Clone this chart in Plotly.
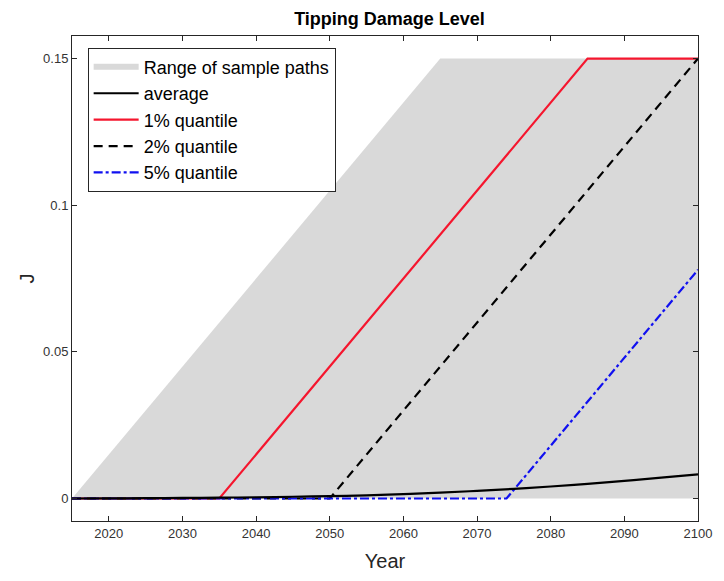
import plotly.graph_objects as go

# Envelope of all simulated sample paths
range_years = [2015, 2065, 2100]
range_upper = [0.0, 0.15, 0.15]
range_lower = [0.0, 0.0, 0.0]

# Mean damage level over time
avg_years = [2015, 2020, 2025, 2030, 2035, 2040, 2045, 2050, 2055, 2060,
             2065, 2070, 2075, 2080, 2085, 2090, 2095, 2100]
avg_vals = [0.0, 0.00005, 0.0001, 0.0002, 0.0003, 0.0004, 0.0006, 0.0008,
            0.0011, 0.0015, 0.0020, 0.0026, 0.0033, 0.0041, 0.0050, 0.0060,
            0.0071, 0.0082]

# Quantile paths
q1_years = [2015, 2035, 2085, 2100]
q1_vals = [0.0, 0.0, 0.15, 0.15]
q2_years = [2015, 2050, 2100]
q2_vals = [0.0, 0.0, 0.15]
q5_years = [2015, 2074, 2100]
q5_vals = [0.0, 0.0, 0.078]

x_ticks = [2020, 2030, 2040, 2050, 2060, 2070, 2080, 2090, 2100]
y_ticks = [0, 0.05, 0.1, 0.15]
y_tick_labels = ["0", "0.05", "0.1", "0.15"]

FONT = "Liberation Sans, Arial, Helvetica"

fig = go.Figure()

fig.add_trace(go.Scatter(
    x=range_years + range_years[::-1],
    y=range_upper + range_lower[::-1],
    fill="toself", fillcolor="#d9d9d9", mode="none",
    name="Range of sample paths", legendrank=1,
))
fig.add_trace(go.Scatter(
    x=q1_years, y=q1_vals, mode="lines", name="1% quantile",
    line=dict(color="#f5162e", width=2.2), legendrank=3,
))
fig.add_trace(go.Scatter(
    x=q2_years, y=q2_vals, mode="lines", name="2% quantile",
    line=dict(color="black", width=2.2, dash="9px,6px"), legendrank=4,
))
fig.add_trace(go.Scatter(
    x=q5_years, y=q5_vals, mode="lines", name="5% quantile",
    line=dict(color="#1010f0", width=2.2, dash="dashdot"), legendrank=5,
))
fig.add_trace(go.Scatter(
    x=avg_years, y=avg_vals, mode="lines", name="average",
    line=dict(color="black", width=2.2, shape="spline"), legendrank=2,
))

axis_common = dict(
    showline=True, linecolor="#262626", linewidth=1, mirror="ticks",
    ticks="inside", ticklen=5, tickcolor="#262626", showgrid=False,
    zeroline=False, tickfont=dict(family=FONT, size=13, color="#333333"),
)

fig.update_layout(
    width=724, height=581,
    margin=dict(l=72, r=19, t=36, b=49),
    paper_bgcolor="white", plot_bgcolor="white",
    title=dict(text="<b>Tipping Damage Level</b>", x=0.538, xanchor="center",
               y=0.968, yanchor="middle",
               font=dict(family=FONT, size=18, color="black")),
    xaxis=dict(range=[2015, 2100], tickvals=x_ticks,
               title=dict(text="Year", standoff=14,
                          font=dict(family=FONT, size=20, color="#262626")),
               **axis_common),
    yaxis=dict(range=[-0.00767, 0.1577], tickvals=y_ticks, ticktext=y_tick_labels,
               title=dict(text="J", standoff=3,
                          font=dict(family=FONT, size=20, color="#262626")),
               **axis_common),
    legend=dict(x=0.025, y=0.976, xanchor="left", yanchor="top",
                bgcolor="white", bordercolor="#262626", borderwidth=1,
                font=dict(family=FONT, size=18, color="black"),
                itemwidth=45, tracegroupgap=0),
    showlegend=True,
)

fig.write_html("out.html")
